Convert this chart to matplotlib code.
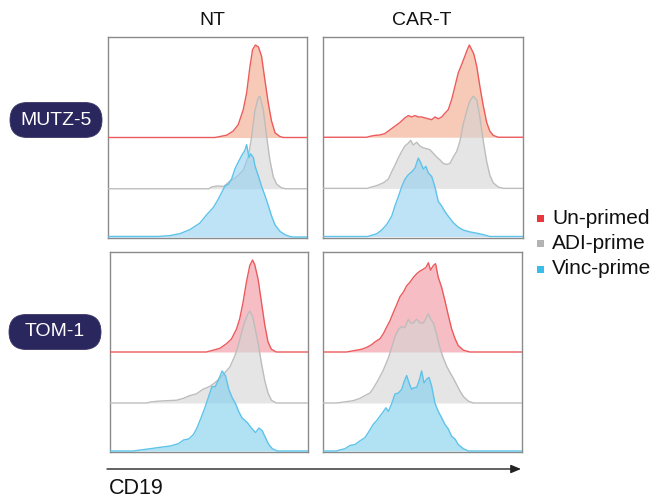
import matplotlib
matplotlib.use("Agg")
import matplotlib.pyplot as plt
from matplotlib.patches import FancyBboxPatch, Rectangle

plt.rcParams['font.family'] = ['Liberation Sans', 'DejaVu Sans']

# ---- labels ----
conditions = ["NT", "CAR-T"]
cell_lines = ["MUTZ-5", "TOM-1"]
groups = ["Un-primed", "ADI-prime", "Vinc-prime"]
axis_label = "CD19"

# ---- histograms: x = CD19 position (% of axis), y = % of mode ----
# MUTZ-5 / NT
mutz_nt_un_x = [0, 53.6, 59.5, 62.8, 65.3, 67.8, 69.5, 71.2, 72.5, 73.9, 75.4, 77.0, 78.7, 80.4, 82.0, 83.8, 86.3, 88.0, 100]
mutz_nt_un_y = [0, 0, 2.5, 7, 14, 30, 48, 77, 95, 100, 98, 88, 62, 37, 18, 5, 1, 0, 0]
mutz_nt_adi_x = [0, 50.5, 52, 55, 58, 61, 64.5, 67.8, 70.4, 72.0, 73.7, 75.4, 76.2, 77.9, 79.6, 81.2, 82.9, 84.6, 87.0, 89, 100]
mutz_nt_adi_y = [0, 0, 2, 3, 2.5, 8, 13, 20, 35, 56, 85, 99, 100, 85, 56, 31, 13, 5, 1, 0, 0]
mutz_nt_vinc_x = [0, 1, 25, 31, 36, 41, 46, 49.4, 52.8, 55.3, 58.6, 60.3, 62.0, 63.7, 65.3, 67.0, 68.7, 69.5, 70.7, 71.5, 72.9, 73.7, 75.4, 77.0, 78.7, 80.4, 82.0, 83.8, 86.3, 88.8, 91.3, 93, 100]
mutz_nt_vinc_y = [0, 0.6, 0.6, 1.5, 3.6, 8, 15, 24, 32, 41, 55, 57, 63, 74, 81, 88, 94, 100, 86, 90, 86, 77, 66, 55, 45, 34, 23, 13, 6, 2.5, 0.5, 0, 0]

# MUTZ-5 / CAR-T
mutz_car_un_x = [0, 21.7, 23.3, 25.8, 28.3, 30.8, 33.3, 35.8, 38.3, 40.8, 42.5, 44.2, 45.8, 47.5, 49.2, 50.8, 52.5, 54.2, 55.8, 57.5, 59.2, 60.8, 62.5, 64.2, 65.8, 67.5, 69.2, 70.8, 72.0, 73.0, 74.2, 75.3, 76.7, 78.3, 80.0, 81.7, 83.3, 85.0, 87.5, 100]
mutz_car_un_y = [0, 0, 1, 2, 2.5, 4, 8, 12, 16, 21, 23.5, 22, 23.5, 22, 22, 21, 20, 19, 22, 20, 22, 26, 30, 41, 55, 70, 79, 88, 95, 100, 95, 90, 77, 55, 34, 16, 6.5, 2, 0, 0]
mutz_car_adi_x = [0, 22, 23.3, 26.7, 30.0, 32.5, 34.2, 35.8, 37.5, 39.2, 40.8, 42.5, 43.7, 45.0, 46.7, 48.3, 50.0, 51.7, 53.3, 55.0, 56.7, 58.3, 60.0, 61.7, 63.3, 65.0, 66.7, 68.3, 70.0, 71.7, 73.3, 75.0, 76.7, 78.3, 80.0, 81.7, 83.3, 85.0, 87.5, 90.0, 100]
mutz_car_adi_y = [0, 0, 1, 3, 6, 10, 18, 25, 33, 40, 46, 49, 52, 47, 50, 46, 44, 43, 42, 38, 34, 31, 27, 26, 27, 34, 40, 51, 70, 84, 95, 100, 96, 77, 51, 29, 14, 6, 1.5, 0, 0]
mutz_car_vinc_x = [0, 22, 23.3, 26.7, 29.2, 31.7, 34.2, 35.8, 37.5, 39.2, 40.8, 42.5, 44.2, 45.8, 47.5, 48.7, 50.0, 51.3, 52.5, 54.2, 55.8, 57.5, 59.2, 60.8, 62.5, 65.0, 67.5, 70.0, 73.3, 76.7, 80.0, 83.3, 100]
mutz_car_vinc_y = [0, 0, 0.7, 3, 7, 13, 22, 33, 43, 54, 62, 67, 70, 74, 85, 80, 73, 76, 69, 65, 54, 38, 33, 27, 22, 15, 10, 7, 5, 3.6, 2, 0, 0]

# TOM-1 / NT
tom_nt_un_x = [0, 48.7, 52.1, 55.5, 58.8, 61.3, 63.9, 65.5, 67.2, 68.9, 70.6, 72.0, 73.1, 74.8, 76.5, 78.2, 79.8, 81.5, 84.0, 100]
tom_nt_un_y = [0, 0, 2, 4, 9, 14, 25, 36, 54, 76, 94, 100, 95, 79, 54, 29, 11, 3, 0, 0]
tom_nt_adi_x = [0, 18.5, 20.2, 24.4, 28.6, 33.6, 37.0, 40.3, 43.7, 47.0, 50.4, 53.0, 55.5, 58.0, 60.5, 63.0, 64.7, 66.4, 68.0, 69.7, 70.6, 72.0, 73.1, 74.8, 76.5, 78.2, 79.8, 81.5, 84.0, 100]
tom_nt_adi_y = [0, 0, 1, 2, 2.5, 3, 5, 8, 10, 15, 18, 22, 27, 33, 39, 51, 62, 76, 88, 97, 100, 94, 83, 65, 43, 24, 11, 3, 0, 0]
tom_nt_vinc_x = [0, 11.8, 15.2, 20.3, 25.3, 30.4, 34.6, 37.2, 39.7, 42.2, 43.9, 45.6, 47.6, 49.8, 51.5, 53.2, 54.9, 56.6, 58.3, 60.0, 61.7, 63.3, 65.0, 66.7, 69.3, 71.8, 73.5, 75.2, 76.9, 78.5, 80.2, 82.0, 84.5, 100]
tom_nt_vinc_y = [0, 0, 1, 2.5, 4, 5.4, 8, 12, 13, 18, 25, 34, 45, 59, 70, 70, 78, 87, 82, 67, 58, 52, 43, 36, 31, 24, 20, 25, 22, 14.5, 7, 2.5, 0, 0]

# TOM-1 / CAR-T
tom_car_un_x = [0, 11.7, 14.2, 16.8, 19.3, 21.8, 24.3, 26.0, 28.5, 30.2, 31.8, 33.5, 35.2, 36.8, 38.5, 40.2, 41.9, 43.6, 45.2, 46.9, 48.6, 50.3, 51.6, 52.8, 53.9, 55.3, 56.4, 57.8, 59.5, 61.1, 62.8, 64.5, 66.2, 67.8, 70.4, 73.7, 100]
tom_car_un_y = [0, 0, 1, 2, 3, 5, 8, 11, 14.5, 20, 27, 34, 43, 51, 60, 65, 72, 76, 81, 85, 88, 90, 92, 97, 89, 94, 96, 81, 70, 56, 40, 25, 14.5, 7, 2, 0, 0]
tom_car_adi_x = [0, 6.7, 10.0, 15.0, 18.4, 20.9, 23.5, 25.1, 27.6, 30.2, 32.7, 34.3, 36.0, 37.7, 39.4, 41.0, 42.7, 43.9, 45.2, 46.9, 48.6, 50.3, 51.6, 52.8, 53.9, 55.3, 57.0, 58.6, 60.3, 62.0, 63.7, 65.3, 67.0, 68.7, 70.4, 72.9, 75.4, 100]
tom_car_adi_y = [0, 0, 1, 2.5, 5, 8, 11, 16, 25, 36, 49, 60, 72, 80, 83, 82, 91, 87, 87, 91, 87, 87, 92, 97, 91, 87, 74, 60, 49, 40, 33, 27, 20, 13, 7, 2, 0, 0]
tom_car_vinc_x = [0, 7.0, 7.5, 10.9, 13.4, 15.9, 18.4, 20.9, 22.6, 25.1, 26.8, 28.5, 30.2, 31.5, 32.7, 34.3, 36.0, 37.7, 39.4, 40.7, 41.9, 43.1, 44.4, 45.7, 46.9, 48.1, 49.4, 50.6, 51.9, 53.1, 54.4, 56.1, 57.8, 59.5, 61.1, 62.8, 64.5, 66.2, 67.8, 70.4, 72.9, 100]
tom_car_vinc_y = [0, 0, 0.7, 2.5, 6, 7, 11, 14.5, 20, 29, 33, 38, 43, 47, 43, 51, 62, 63, 67, 76, 82, 74, 67, 69, 69, 76, 87, 74, 78, 80, 71, 52, 43, 36, 29, 24, 16, 13, 7, 2.5, 0, 0]

panel_curves = {
    (0, 0): [(mutz_nt_un_x, mutz_nt_un_y), (mutz_nt_adi_x, mutz_nt_adi_y), (mutz_nt_vinc_x, mutz_nt_vinc_y)],
    (0, 1): [(mutz_car_un_x, mutz_car_un_y), (mutz_car_adi_x, mutz_car_adi_y), (mutz_car_vinc_x, mutz_car_vinc_y)],
    (1, 0): [(tom_nt_un_x, tom_nt_un_y), (tom_nt_adi_x, tom_nt_adi_y), (tom_nt_vinc_x, tom_nt_vinc_y)],
    (1, 1): [(tom_car_un_x, tom_car_un_y), (tom_car_adi_x, tom_car_adi_y), (tom_car_vinc_x, tom_car_vinc_y)],
}

# ---- styling ----
line_colors = ["#EC5A5C", "#BDBDBD", "#5EC3EA"]
fill_colors = {0: ["#F3A88A", "#D4D4D4", "#93CFF0"],
               1: ["#F0939D", "#D4D4D4", "#7CCFEE"]}
legend_colors = ["#E8383D", "#B3B3B3", "#3BBDEB"]
baselines = [0.50, 0.245, 0.005]
peak_height = 0.46
pill_color = "#2A265E"

W, H = 658, 499
fig = plt.figure(figsize=(W / 100, H / 100), dpi=100)

# panel boxes in pixels: (left, top, right, bottom)
panel_px = {
    (0, 0): (108.3, 37, 307.3, 238),
    (0, 1): (323.3, 37, 523.3, 237.5),
    (1, 0): (110, 252, 308, 452),
    (1, 1): (323.3, 252, 522.3, 452),
}

for (r, c), (l, t, rr, b) in panel_px.items():
    ax = fig.add_axes([l / W, 1 - b / H, (rr - l) / W, (b - t) / H])
    for k, (xs, ys) in enumerate(panel_curves[(r, c)]):
        base = baselines[k]
        top = [base + v / 100 * peak_height for v in ys]
        ax.fill_between(xs, base, top, color=fill_colors[r][k], alpha=0.6,
                        linewidth=0, zorder=2 + 2 * k)
        ax.plot(xs, top, color=line_colors[k], lw=1.0, zorder=3 + 2 * k)
    ax.set_xlim(0, 100)
    ax.set_ylim(0, 1)
    ax.set_xticks([])
    ax.set_yticks([])
    for s in ax.spines.values():
        s.set_color("#8A8A8A")
        s.set_linewidth(1.0)

# overlay in pixel coordinates for labels, pills, legend and arrow
ov = fig.add_axes([0, 0, 1, 1], zorder=10)
ov.set_xlim(0, W)
ov.set_ylim(H, 0)
ov.axis("off")
ov.patch.set_alpha(0)

ov.text(212, 20, conditions[0], ha="center", va="center", fontsize=14, color="#111111")
ov.text(422, 20, conditions[1], ha="center", va="center", fontsize=14, color="#111111")

for name, (cx, cy) in zip(cell_lines, [(56, 120), (55, 332)]):
    w, h = 92, 35
    pill = FancyBboxPatch((cx - w / 2, cy - h / 2), w, h,
                          boxstyle=f"round,pad=0,rounding_size={h / 2}",
                          facecolor=pill_color, edgecolor="#3A3668", lw=0.6)
    ov.add_patch(pill)
    ov.text(cx, cy, name, ha="center", va="center", fontsize=14, color="white")

for i, (g, col) in enumerate(zip(groups, legend_colors)):
    y = 218 + 25.5 * i
    ov.add_patch(Rectangle((536.5, y - 3.5), 7, 7, facecolor=col, edgecolor="none"))
    ov.text(552, y, g, ha="left", va="center", fontsize=15, color="#111111")

ov.annotate("", xy=(521, 469), xytext=(107, 469),
            arrowprops=dict(arrowstyle="-|>,head_length=0.6,head_width=0.25",
                            color="#222222", lw=1.0, shrinkA=0, shrinkB=0))
ov.text(109, 488, axis_label, ha="left", va="center", fontsize=15.5, color="#111111")

fig.savefig("out.png", dpi=100)
